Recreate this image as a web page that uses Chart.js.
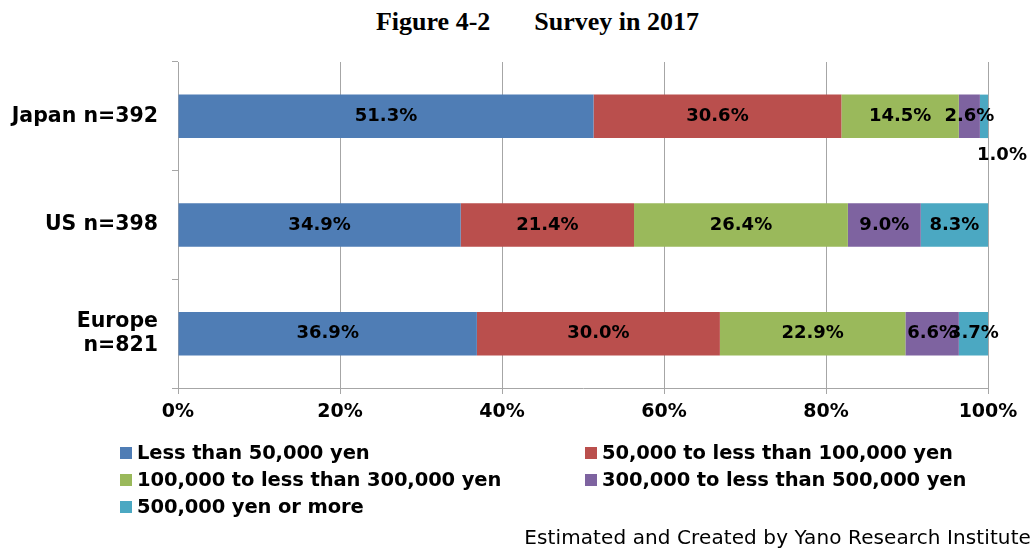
<!DOCTYPE html>
<html>
<head>
<meta charset="utf-8">
<script src="https://cdn.jsdelivr.net/npm/chart.js@4.4.1/dist/chart.umd.min.js"></script>
<style>
  body { margin: 0; background: #fff; }
  #wrap { position: relative; width: 1035px; height: 549px; overflow: hidden; }
  #title {
    position: absolute; top: 7px; left: 0; width: 1075px; text-align: center;
    font: bold 26px "Liberation Serif", "Times New Roman", serif; color: #000;
  }
  #title span + span { margin-left: 44px; }
  #legend {
    position: absolute; left: 120px; top: 440px; width: 910px;
    display: grid; grid-template-columns: 465px 445px; row-gap: 2px;
    font: bold 19.5px "DejaVu Sans", sans-serif; color: #000; letter-spacing: -0.1px;
  }
  #legend .item { display: flex; align-items: center; height: 25px; white-space: nowrap; }
  #legend .box { width: 12px; height: 12px; margin-right: 5px; flex: none; }
  #credit {
    position: absolute; right: 4px; top: 525px;
    font: 20px "DejaVu Sans", sans-serif; color: #000; letter-spacing: 0.1px;
  }
  canvas { position: absolute; left: 0; top: 0; }
</style>
</head>
<body>
<div id="wrap">
  <div id="title"><span>Figure 4-2</span><span>Survey in 2017</span></div>
  <canvas id="barChart" width="1035" height="549"></canvas>
  <div id="legend"></div>
  <div id="credit">Estimated and Created by Yano Research Institute</div>
</div>
<script>
const categories = ['Japan n=392', 'US n=398', ['Europe', 'n=821']];
const seriesNames = [
  'Less than 50,000 yen',
  '50,000 to less than 100,000 yen',
  '100,000 to less than 300,000 yen',
  '300,000 to less than 500,000 yen',
  '500,000 yen or more'
];
const under50k = [51.3, 34.9, 36.9];
const from50kTo100k = [30.6, 21.4, 30.0];
const from100kTo300k = [14.5, 26.4, 22.9];
const from300kTo500k = [2.6, 9.0, 6.6];
const over500k = [1.0, 8.3, 3.7];
const tickLabels = ['0%', '20%', '40%', '60%', '80%', '100%'];

const colors = ['#4F7DB5', '#BA4F4D', '#9AB95B', '#7E63A0', '#4BA8C2'];
const seriesValues = [under50k, from50kTo100k, from100kTo300k, from300kTo500k, over500k];

const axisFont = { family: '"DejaVu Sans", sans-serif', size: 19, weight: 'bold' };

// draws the percentage inside every segment (small ones go under the bar)
const valueLabels = {
  id: 'valueLabels',
  afterDatasetsDraw: (chart) => {
    const ctx = chart.ctx;
    ctx.save();
    ctx.font = 'bold 18px "DejaVu Sans", sans-serif';
    ctx.fillStyle = '#000';
    ctx.textAlign = 'center';
    ctx.textBaseline = 'middle';
    chart.data.datasets.forEach((ds, i) => {
      const meta = chart.getDatasetMeta(i);
      meta.data.forEach((bar, j) => {
        const v = ds.data[j];
        const c = bar.getCenterPoint();
        const text = v.toFixed(1) + '%';
        if (v < 2) {
          ctx.fillText(text, c.x + 18, c.y + 39);
        } else {
          ctx.fillText(text, c.x, c.y);
        }
      });
    });
    ctx.restore();
  }
};

const canvas = document.getElementById('barChart');
const chart = new Chart(canvas.getContext('2d'), {
  type: 'bar',
  data: {
    labels: categories,
    datasets: seriesValues.map((vals, i) => ({
      label: seriesNames[i],
      data: vals,
      backgroundColor: colors[i],
      borderWidth: 0,
      barPercentage: 0.4,
      categoryPercentage: 1
    }))
  },
  options: {
    indexAxis: 'y',
    responsive: false,
    animation: false,
    devicePixelRatio: 1,
    layout: { padding: { top: 62, left: 0, right: 47, bottom: 121 } },
    plugins: {
      legend: { display: false },
      title: { display: false },
      tooltip: { enabled: false }
    },
    scales: {
      x: {
        stacked: true,
        min: 0,
        max: 100,
        afterFit: (scale) => { scale.height = 40; },
        afterBuildTicks: (scale) => {
          scale.ticks = tickLabels.map((t, i) => ({ value: i * 20 }));
        },
        ticks: {
          callback: (v, i) => tickLabels[i],
          color: '#000',
          font: axisFont,
          padding: 7,
          maxRotation: 0
        },
        grid: { color: '#a6a6a6', tickLength: 6, lineWidth: 1 },
        border: { color: '#a6a6a6' }
      },
      y: {
        stacked: true,
        afterFit: (scale) => { scale.width = 178; },
        ticks: {
          color: '#000',
          font: { family: '"DejaVu Sans", sans-serif', size: 20.5, weight: 'bold' },
          padding: 14
        },
        grid: { drawOnChartArea: false, color: '#a6a6a6', tickLength: 6, offset: true },
        border: { color: '#a6a6a6' }
      }
    }
  },
  plugins: [valueLabels]
});

// legend in two columns built from the chart's datasets
const legendEl = document.getElementById('legend');
chart.data.datasets.forEach((ds) => {
  const item = document.createElement('div');
  item.className = 'item';
  item.innerHTML = `<span class="box" style="background:${ds.backgroundColor}"></span><span>${ds.label}</span>`;
  legendEl.appendChild(item);
});
</script>
</body>
</html>
